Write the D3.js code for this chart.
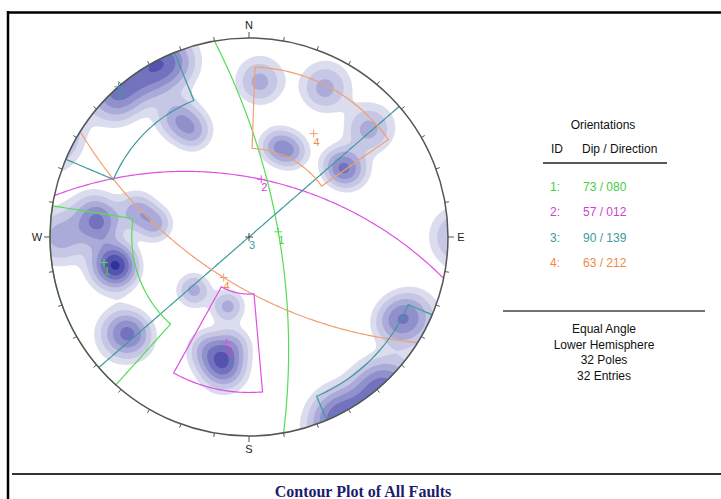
<!DOCTYPE html>
<html>
<head>
<meta charset="utf-8">
<script src="https://cdnjs.cloudflare.com/ajax/libs/d3/7.8.5/d3.min.js"></script>
<style>
body { margin: 0; background: #fff; }
text { font-family: "Liberation Sans", Arial, sans-serif; }
</style>
</head>
<body>
<div id="chartDiv"></div>
<script>
// fault sets: dip / dip direction
const setIds = [1, 2, 3, 4];
const setDips = [73, 57, 90, 63];
const setDipDirs = [80, 12, 139, 212];

// set windows (trend range, plunge range of the poles)
const windowSets = [1, 2, 3, 3, 4];
const windowTrendFrom = [222, 175, 293, 113, 2];
const windowTrendTo = [279, 209, 338, 157, 55];
const windowPlungeFrom = [0, 14, 0, 0, 9];
const windowPlungeTo = [29, 58, 17, 8, 42];

// the 32 poles (trend / plunge)
const poleTrends = [316, 327, 336, 116, 120, 140, 153, 329, 332, 4, 27, 17, 26, 52, 56, 48,
    270, 274, 278, 256, 258, 260, 283, 278, 230, 233, 226, 197, 190, 193, 189, 200];
const polePlunges = [2, 3, 3, 6, 9, 1, 1, 20, 28, 14, 10, 39, 39, 30, 28, 12,
    3, 16, 14, 21, 22, 20, 30, 39, 15, 13, 48, 50, 22, 24, 32, 28];

const cardinals = ["N", "E", "S", "W"];
const infoLines = ["Equal Angle", "Lower Hemisphere", "32 Poles", "32 Entries"];
const chartTitle = "Contour Plot of All Faults";

// styles
const setColors = {1: "#55dd55", 2: "#e050e0", 3: "#3d9a9a", 4: "#f0a070"};
const textColors = {1: "#44cc44", 2: "#d040d0", 3: "#3d9a9a", 4: "#f08848"};
const levels = [0.25, 0.5, 0.85, 1.25, 1.7, 2.2, 2.7, 3.2];
const levelColors = ["#dcdcef", "#c6c6e5", "#ababd9", "#9090cc", "#7272be", "#5454ae", "#32329c", "#121286"];

const width = 721, height = 499;
const cx = 249, cy = 237, R = 199;
const rad = Math.PI / 180;
const kappa = 120;

let svg = d3.select("#chartDiv").append("svg")
    .attr("width", width)
    .attr("height", height);

svg.append("rect").attr("width", width).attr("height", height).attr("fill", "#fff");

let radius = d3.scaleLinear().domain([0, 1]).range([0, R]);

// equal angle, lower hemisphere
function project(trend, plunge) {
    const r = radius(Math.tan((90 - plunge) * rad / 2));
    return [cx + r * Math.sin(trend * rad), cy - r * Math.cos(trend * rad)];
}

function toVec(trend, plunge) {
    return [Math.cos(plunge * rad) * Math.sin(trend * rad),
        Math.cos(plunge * rad) * Math.cos(trend * rad),
        Math.sin(plunge * rad)];
}

// density grid (axial kernel, so poles near horizontal show on both sides)
const step = 2;
const x0 = cx - R - 4, y0 = cy - R - 4;
const n = Math.ceil((2 * R + 8) / step);
const poleVecs = poleTrends.map((t, i) => toVec(t, polePlunges[i]));
const values = new Float64Array(n * n);
for (let j = 0; j < n; j++) {
    for (let i = 0; i < n; i++) {
        const dx = x0 + (i + 0.5) * step - cx;
        const dn = cy - (y0 + (j + 0.5) * step);
        const rho = Math.hypot(dx, dn) / R;
        const pl = 90 - 2 * Math.atan(rho) / rad;
        const tr = Math.atan2(dx, dn) / rad;
        const v = toVec(tr, pl);
        let s = 0;
        poleVecs.forEach(p => {
            const c = Math.abs(v[0] * p[0] + v[1] * p[1] + v[2] * p[2]);
            s += Math.exp(kappa * (c - 1));
        });
        values[j * n + i] = s;
    }
}

svg.append("clipPath").attr("id", "netClip")
    .append("circle").attr("cx", cx).attr("cy", cy).attr("r", R);

let contours = d3.contours().size([n, n]).thresholds(levels)(values);
let gridPath = d3.geoPath(d3.geoIdentity().scale(step).translate([x0, y0]));

svg.append("g")
    .attr("clip-path", "url(#netClip)")
    .selectAll("path")
    .data(contours)
    .join("path")
    .attr("d", gridPath)
    .attr("fill", (d, i) => levelColors[i]);

let line = d3.line();

// great circles
setIds.forEach((id, k) => {
    const dip = setDips[k] * rad, dd = setDipDirs[k] * rad;
    const s = [Math.sin(dd - Math.PI / 2), Math.cos(dd - Math.PI / 2), 0];
    const dv = [Math.cos(dip) * Math.sin(dd), Math.cos(dip) * Math.cos(dd), Math.sin(dip)];
    const pts = d3.range(0, 180.5, 1).map(a => {
        const c = Math.cos(a * rad), sn = Math.sin(a * rad);
        const v = [c * s[0] + sn * dv[0], c * s[1] + sn * dv[1], c * s[2] + sn * dv[2]];
        const pl = Math.asin(Math.max(-1, Math.min(1, v[2]))) / rad;
        const tr = Math.atan2(v[0], v[1]) / rad;
        return project(tr, Math.max(0, pl));
    });
    svg.append("path")
        .attr("d", line(pts))
        .attr("fill", "none")
        .attr("stroke", setColors[id])
        .attr("stroke-width", 1.2);
});

// windows
windowSets.forEach((id, k) => {
    const t1 = windowTrendFrom[k], t2 = windowTrendTo[k];
    const p1 = windowPlungeFrom[k], p2 = windowPlungeTo[k];
    let pts = [];
    d3.range(p1, p2 + 0.01, 1).forEach(p => pts.push(project(t1, p)));
    d3.range(t1, t2 + 0.01, 1).forEach(t => pts.push(project(t, p2)));
    d3.range(p2, p1 - 0.01, -1).forEach(p => pts.push(project(t2, p)));
    d3.range(t2, t1 - 0.01, -1).forEach(t => pts.push(project(t, p1)));
    svg.append("path")
        .attr("d", line(pts) + "Z")
        .attr("fill", "none")
        .attr("stroke", setColors[id])
        .attr("stroke-width", 1.2);
});

// primitive circle and ticks
svg.append("circle")
    .attr("cx", cx).attr("cy", cy).attr("r", R)
    .attr("fill", "none")
    .attr("stroke", "#555")
    .attr("stroke-width", 1.5);

svg.append("g").selectAll("line")
    .data(d3.range(0, 360, 10))
    .join("line")
    .attr("x1", a => cx + R * Math.sin(a * rad))
    .attr("y1", a => cy - R * Math.cos(a * rad))
    .attr("x2", a => cx + (R + (a % 90 === 0 ? 6 : 4)) * Math.sin(a * rad))
    .attr("y2", a => cy - (R + (a % 90 === 0 ? 6 : 4)) * Math.cos(a * rad))
    .attr("stroke", "#555")
    .attr("stroke-width", 1);

svg.append("g").selectAll("text")
    .data(cardinals)
    .join("text")
    .attr("x", (d, i) => cx + (R + 13) * Math.sin(i * 90 * rad))
    .attr("y", (d, i) => cy - (R + 13) * Math.cos(i * 90 * rad) + 4)
    .attr("text-anchor", "middle")
    .style("font-size", "11px")
    .attr("fill", "#222")
    .text(d => d);

// pole and dip markers
function marker(p, color, label, labelColor) {
    svg.append("path")
        .attr("d", `M${p[0] - 4},${p[1]}H${p[0] + 4}M${p[0]},${p[1] - 4}V${p[1] + 4}`)
        .attr("stroke", color)
        .attr("stroke-width", 1);
    svg.append("text")
        .attr("x", p[0] + 3)
        .attr("y", p[1] + 12)
        .attr("text-anchor", "middle")
        .style("font-size", "11px")
        .attr("fill", labelColor)
        .text(label);
}

setIds.forEach((id, k) => {
    marker(project(setDipDirs[k], setDips[k]), k === 2 ? "#444" : setColors[id], id, textColors[id]);
    marker(project((setDipDirs[k] + 180) % 360, 90 - setDips[k]), setColors[id], id, textColors[id]);
});

// legend
let legend = svg.append("g").style("font-size", "12px");
legend.append("text").attr("x", 603).attr("y", 129).attr("text-anchor", "middle").attr("fill", "#111").text("Orientations");
legend.append("text").attr("x", 551).attr("y", 153).attr("fill", "#111").text("ID");
legend.append("text").attr("x", 582).attr("y", 153).attr("fill", "#111").text("Dip / Direction");
legend.append("line").attr("x1", 543).attr("x2", 667).attr("y1", 163).attr("y2", 163)
    .attr("stroke", "#222").attr("stroke-width", 1.5);

const pad3 = d3.format("03d");
setIds.forEach((id, k) => {
    const y = 191 + k * 25.3;
    legend.append("text").attr("x", 550).attr("y", y).attr("fill", textColors[id]).text(id + ":");
    legend.append("text").attr("x", 583).attr("y", y).attr("fill", textColors[id])
        .text(setDips[k] + " / " + pad3(setDipDirs[k]));
});

svg.append("line").attr("x1", 503).attr("x2", 705).attr("y1", 311).attr("y2", 311)
    .attr("stroke", "#444").attr("stroke-width", 1.5);

svg.append("g").selectAll("text")
    .data(infoLines)
    .join("text")
    .attr("x", 604)
    .attr("y", (d, i) => 333 + i * 15.6)
    .attr("text-anchor", "middle")
    .style("font-size", "12px")
    .attr("fill", "#111")
    .text(d => d);

// frame and title
svg.append("line").attr("x1", 7).attr("x2", width).attr("y1", 12.5).attr("y2", 12.5)
    .attr("stroke", "#000").attr("stroke-width", 2.5);
svg.append("line").attr("x1", 8).attr("x2", 8).attr("y1", 11).attr("y2", height)
    .attr("stroke", "#000").attr("stroke-width", 2.5);
svg.append("line").attr("x1", 12).attr("x2", width).attr("y1", 474).attr("y2", 474)
    .attr("stroke", "#333").attr("stroke-width", 2);

svg.append("text")
    .attr("x", 363)
    .attr("y", 497)
    .attr("text-anchor", "middle")
    .style("font-family", "'Liberation Serif', 'Times New Roman', serif")
    .style("font-size", "16px")
    .style("font-weight", "bold")
    .attr("fill", "#1c1c6c")
    .text(chartTitle);
</script>
</body>
</html>
